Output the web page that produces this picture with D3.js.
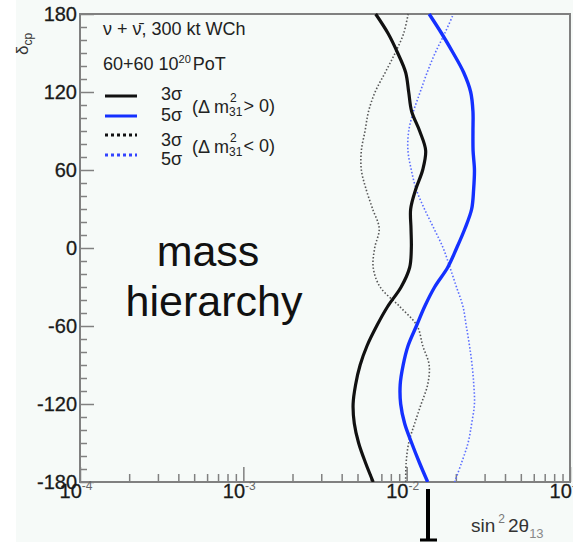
<!DOCTYPE html>
<html>
<head>
<meta charset="utf-8">
<script src="https://cdn.jsdelivr.net/npm/d3@7"></script>
<style>
  body { margin: 0; background: #ffffff; }
  text { font-family: "Liberation Sans", Arial, sans-serif; }
</style>
</head>
<body>
<script>
// delta_cp grid (degrees), shared by all four curves
var deltaCP = [-180, -165, -150, -135, -120, -105, -90, -75, -60, -45, -30, -15, 0,
  15, 30, 45, 60, 75, 90, 105, 120, 135, 150, 165, 180];

// sin^2 2theta13, from delta = -180 up to +180
var normal3s = [0.00624, 0.00559, 0.00508, 0.00478, 0.00470, 0.00487, 0.00519, 0.00573, 0.00655,
  0.00765, 0.00925, 0.01043, 0.01068, 0.01063, 0.01058, 0.01135, 0.01253, 0.01307, 0.01201,
  0.01073, 0.01029, 0.00986, 0.00881, 0.00770, 0.00646];
var normal5s = [0.01345, 0.01196, 0.01073, 0.00972, 0.00919, 0.00913, 0.00952, 0.01021, 0.01147,
  0.01289, 0.01484, 0.01782, 0.02024, 0.02275, 0.0250, 0.0257, 0.0260, 0.0255, 0.02546,
  0.02546, 0.02465, 0.02234, 0.01926, 0.01638, 0.01373];
var invert3s = [0.00986, 0.00993, 0.01029, 0.01119, 0.01227, 0.01345, 0.01373, 0.01253, 0.0116,
  0.00906, 0.00688, 0.00624, 0.00637, 0.00679, 0.00619, 0.00565, 0.00528, 0.00528, 0.00556,
  0.00584, 0.00641, 0.00739, 0.00850, 0.00958, 0.01021];
var invert5s = [0.01967, 0.02171, 0.02376, 0.0250, 0.0260, 0.02575, 0.02514, 0.02424, 0.02317,
  0.02211, 0.02018, 0.01841, 0.01673, 0.01469, 0.01285, 0.01145, 0.01068, 0.01018, 0.01029,
  0.0110, 0.0121, 0.01335, 0.01494, 0.01709, 0.01934];

var yTicks = [-180, -120, -60, 0, 60, 120, 180];
var xDecades = [-4, -3, -2, -1];

var W = 573, H = 542;
var plot = {left: 80, right: 570, top: 14, bottom: 482};

var svg = d3.select("body").append("svg")
  .attr("width", W)
  .attr("height", H);

svg.append("rect")
  .attr("x", 16).attr("y", 0)
  .attr("width", W - 16).attr("height", H)
  .attr("fill", "#f6faf8");

var x = d3.scaleLog().domain([1e-4, 1e-1]).range([plot.left, plot.right]);
var y = d3.scaleLinear().domain([-180, 180]).range([plot.bottom, plot.top]);

// frame
svg.append("rect")
  .attr("x", plot.left).attr("y", plot.top)
  .attr("width", plot.right - plot.left).attr("height", plot.bottom - plot.top)
  .attr("fill", "none")
  .attr("stroke", "#808080")
  .attr("stroke-width", 2);

// left axis, ticks pointing inside
var minorY = d3.range(-170, 180, 10).filter(function(d) { return d % 60 != 0; });
svg.append("g").attr("transform", `translate(${plot.left},0)`)
  .call(d3.axisRight(y).tickValues(yTicks).tickSize(14).tickFormat(""));
svg.append("g").attr("transform", `translate(${plot.left},0)`)
  .call(d3.axisRight(y).tickValues(minorY).tickSize(7).tickFormat(""));

// bottom axis, ticks pointing up
var minorX = [];
xDecades.slice(0, 3).forEach(function(e) {
  for (var k = 2; k <= 9; k++) minorX.push(k * Math.pow(10, e));
});
svg.append("g").attr("transform", `translate(0,${plot.bottom})`)
  .call(d3.axisTop(x).tickValues(xDecades.map(function(e) { return Math.pow(10, e); })).tickSize(15).tickFormat(""));
svg.append("g").attr("transform", `translate(0,${plot.bottom})`)
  .call(d3.axisTop(x).tickValues(minorX).tickSize(8).tickFormat(""));

svg.selectAll(".domain").remove();
svg.selectAll(".tick line").attr("stroke", "#808080").attr("stroke-width", 1.5);

// y tick labels
svg.selectAll(".ylab")
  .data(yTicks)
  .enter().append("text")
  .attr("class", "ylab")
  .attr("x", plot.left - 3)
  .attr("y", function(d) { return y(d) + 7; })
  .attr("text-anchor", "end")
  .attr("font-size", 20)
  .attr("fill", "#1a1a1a")
  .attr("stroke", "#1a1a1a").attr("stroke-width", 0.3)
  .text(function(d) { return d; });

// x tick labels 10^n
var xl = svg.selectAll(".xlab")
  .data(xDecades)
  .enter().append("text")
  .attr("class", "xlab")
  .attr("x", function(d) { return x(Math.pow(10, d)) - 4; })
  .attr("y", plot.bottom + 16)
  .attr("text-anchor", "middle")
  .attr("font-size", 20)
  .attr("fill", "#1a1a1a")
  .attr("stroke", "#1a1a1a").attr("stroke-width", 0.3);
xl.append("tspan").text("10");
xl.append("tspan").attr("dy", -8).attr("font-size", 12).attr("fill", "#666").attr("stroke", "none")
  .text(function(d) { return d; });

// y title
var yt = svg.append("text")
  .attr("transform", "translate(28,55) rotate(-90)")
  .attr("font-size", 17)
  .attr("fill", "#333");
yt.append("tspan").text("δ");
yt.append("tspan").attr("dy", 4).attr("font-size", 12).text("cp");

// x title
var xt = svg.append("text")
  .attr("x", 471).attr("y", 532)
  .attr("font-size", 19)
  .attr("fill", "#333");
xt.append("tspan").text("sin");
xt.append("tspan").attr("dy", -9).attr("dx", 3).attr("font-size", 12).attr("fill", "#777").text("2");
xt.append("tspan").attr("dy", 9).attr("dx", 3).text("2θ");
xt.append("tspan").attr("dy", 6).attr("font-size", 13).attr("fill", "#888").text("13");

// marker below the axis
svg.append("line")
  .attr("x1", 428).attr("x2", 428).attr("y1", 489).attr("y2", 541)
  .attr("stroke", "#000").attr("stroke-width", 4);
svg.append("line")
  .attr("x1", 420).attr("x2", 437).attr("y1", 540).attr("y2", 540)
  .attr("stroke", "#000").attr("stroke-width", 3);

// curves
var line = d3.line()
  .x(function(d) { return x(d[0]); })
  .y(function(d) { return y(d[1]); })
  .curve(d3.curveCatmullRom.alpha(0.5));

var series = [
  {vals: invert3s, color: "#555555", width: 1.6, dash: "1.5 2"},
  {vals: invert5s, color: "#5a6cff", width: 1.6, dash: "1.5 2"},
  {vals: normal3s, color: "#111111", width: 3.2, dash: null},
  {vals: normal5s, color: "#1430ff", width: 3.4, dash: null}
];

svg.append("clipPath").attr("id", "clip").append("rect")
  .attr("x", plot.left).attr("y", plot.top - 1)
  .attr("width", plot.right - plot.left).attr("height", plot.bottom - plot.top + 1);

svg.append("g").attr("clip-path", "url(#clip)")
  .selectAll("path")
  .data(series)
  .enter().append("path")
  .attr("d", function(s) { return line(s.vals.map(function(v, i) { return [v, deltaCP[i]]; })); })
  .attr("fill", "none")
  .attr("stroke", function(s) { return s.color; })
  .attr("stroke-width", function(s) { return s.width; })
  .attr("stroke-dasharray", function(s) { return s.dash; });

// legend
var leg = svg.append("g");
var l1 = leg.append("text").attr("x", 103).attr("y", 35).attr("font-size", 18).attr("fill", "#222");
l1.append("tspan").text("ν + ");
l1.append("tspan").text("ν̄");
l1.append("tspan").text(", 300 kt WCh");
var l2 = leg.append("text").attr("x", 103).attr("y", 70).attr("font-size", 18).attr("fill", "#222");
l2.append("tspan").text("60+60 10");
l2.append("tspan").attr("dy", -7).attr("font-size", 11).text("20");
l2.append("tspan").attr("dy", 7).attr("dx", 2).text("PoT");

var legLines = [
  {y: 96, color: "#111111", dash: null},
  {y: 116, color: "#1430ff", dash: null},
  {y: 135, color: "#111111", dash: "3 3"},
  {y: 155, color: "#3344ff", dash: "3 3"}
];
leg.selectAll("line")
  .data(legLines)
  .enter().append("line")
  .attr("x1", 105).attr("x2", 137)
  .attr("y1", function(d) { return d.y; }).attr("y2", function(d) { return d.y; })
  .attr("stroke", function(d) { return d.color; })
  .attr("stroke-width", 3)
  .attr("stroke-dasharray", function(d) { return d.dash; });

var sigmaLabels = [{t: "3σ", y: 100}, {t: "5σ", y: 121}, {t: "3σ", y: 146}, {t: "5σ", y: 165}];
leg.selectAll(".sig")
  .data(sigmaLabels)
  .enter().append("text")
  .attr("class", "sig")
  .attr("x", 161).attr("y", function(d) { return d.y; })
  .attr("font-size", 18).attr("fill", "#222")
  .text(function(d) { return d.t; });

[{y: 113, sign: "> 0)"}, {y: 153, sign: "< 0)"}].forEach(function(r) {
  var t = leg.append("text").attr("x", 192).attr("y", r.y).attr("font-size", 18).attr("fill", "#222")
    .text("(Δ m");
  var mEnd = 192 + t.node().getComputedTextLength();
  leg.append("text").attr("x", mEnd + 1).attr("y", r.y - 11).attr("font-size", 12).attr("fill", "#222").text("2");
  var sub = leg.append("text").attr("x", mEnd).attr("y", r.y + 3).attr("font-size", 12).attr("fill", "#222").text("31");
  var subEnd = mEnd + sub.node().getComputedTextLength();
  leg.append("text").attr("x", subEnd + 1).attr("y", r.y - 1).attr("font-size", 18).attr("fill", "#222").text(r.sign);
});

// annotation
svg.append("text").attr("x", 208).attr("y", 266).attr("text-anchor", "middle")
  .attr("font-size", 43).attr("fill", "#111").text("mass");
svg.append("text").attr("x", 214).attr("y", 316).attr("text-anchor", "middle")
  .attr("font-size", 43).attr("fill", "#111").text("hierarchy");
</script>
</body>
</html>
